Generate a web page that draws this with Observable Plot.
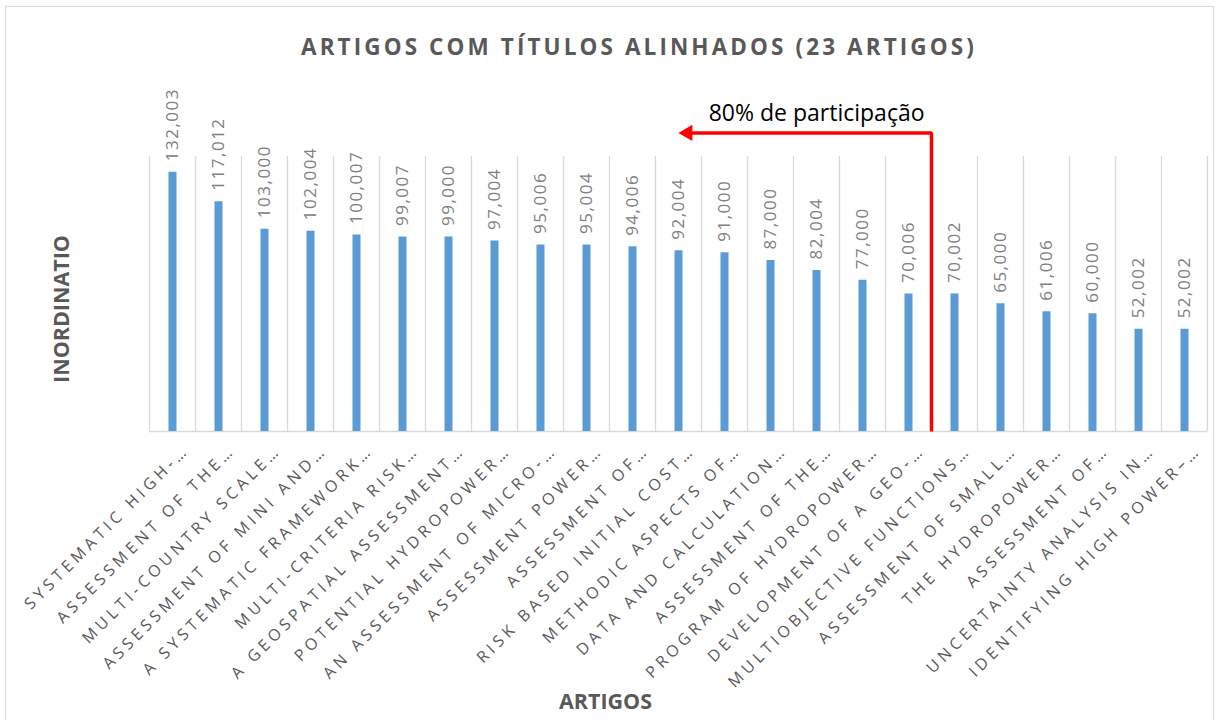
<!DOCTYPE html>
<html>
<head>
<meta charset="utf-8">
<script src="https://cdn.jsdelivr.net/npm/d3@7"></script>
<script src="https://cdn.jsdelivr.net/npm/@observablehq/plot@0.6"></script>
<style>
  body { margin: 0; background: #fff; }
  #wrap { position: relative; width: 1216px; height: 720px; overflow: hidden; background: #fff; }
  #border { position: absolute; left: 5px; top: 6px; width: 1209px; height: 760px; border: 1.5px solid #d9d9d9; box-sizing: border-box; }
  #title { position: absolute; left: 139px; width: 1000px; top: 31px; text-align: center;
           font-family: "Open Sans", sans-serif; font-weight: bold; font-size: 22.5px; letter-spacing: 3.1px; color: #595959; }
  #chart { position: absolute; left: 0; top: 0; }
</style>
</head>
<body>
<div id="wrap">
  <div id="border"></div>
  <div id="title"></div>
  <div id="chart"></div>
</div>
<script>
const titleText = "ARTIGOS COM TÍTULOS ALINHADOS (23 ARTIGOS)";
const yTitle = "INORDINATIO";
const xTitle = "ARTIGOS";
const annotationText = "80% de participação";

const categories = [
  "SYSTEMATIC HIGH-…",
  "ASSESSMENT OF THE…",
  "MULTI-COUNTRY SCALE…",
  "ASSESSMENT OF MINI AND…",
  "A SYSTEMATIC FRAMEWORK…",
  "MULTI-CRITERIA RISK…",
  "A GEOSPATIAL ASSESSMENT…",
  "POTENTIAL HYDROPOWER…",
  "AN ASSESSMENT OF MICRO-…",
  "ASSESSMENT POWER…",
  "ASSESSMENT OF…",
  "RISK BASED INITIAL COST…",
  "METHODIC ASPECTS OF…",
  "DATA AND CALCULATION…",
  "ASSESSMENT OF THE…",
  "PROGRAM OF HYDROPOWER…",
  "DEVELOPMENT OF A GEO-…",
  "MULTIOBJECTIVE FUNCTIONS…",
  "ASSESSMENT OF SMALL…",
  "THE HYDROPOWER…",
  "ASSESSMENT OF…",
  "UNCERTAINTY ANALYSIS IN…",
  "IDENTIFYING HIGH POWER–…"
];
const values = [132.003, 117.012, 103.000, 102.004, 100.007, 99.007, 99.000, 97.004, 95.006, 95.004,
                94.006, 92.004, 91.000, 87.000, 82.004, 77.000, 70.006, 70.002, 65.000, 61.006,
                60.000, 52.002, 52.002];

// annotation: 80% cut-off after the 17th article, arrow pointing left
const cutoffIndex = 17;
const arrowHeadIndex = 11.7;
const arrowLevel = 152;

document.getElementById("title").textContent = titleText;

const data = categories.map((c, i) => ({i, label: c, value: values[i]}));
const fmt = v => d3.format(".3f")(v).replace(".", ",");
const arrowPath = [
  {x: cutoffIndex, y: 0},
  {x: cutoffIndex, y: arrowLevel},
  {x: arrowHeadIndex, y: arrowLevel}
];

const chart = Plot.plot({
  width: 1216,
  height: 720,
  marginLeft: 149,
  marginRight: 9,
  marginTop: 156,
  marginBottom: 289,
  x: {type: "linear", domain: [0, categories.length], axis: null},
  y: {domain: [0, 140], axis: null},
  style: {fontFamily: "'Open Sans', sans-serif", background: "transparent", overflow: "visible"},
  marks: [
    Plot.ruleX(d3.range(categories.length + 1), {stroke: "#d9d9d9", strokeWidth: 1.3}),
    Plot.ruleY([0], {stroke: "#d9d9d9", strokeWidth: 1.5}),
    Plot.ruleX(data, {x: d => d.i + 0.5, y1: 0, y2: "value", stroke: "#5b9bd5", strokeWidth: 8}),
    Plot.text(data, {x: d => d.i + 0.5, y: "value", text: d => fmt(d.value), rotate: -90,
      textAnchor: "start", dy: -11, fill: "#808080", fontSize: 17}),
    Plot.text(data, {x: d => d.i + 0.5, y: 0, text: "label", rotate: -45,
      textAnchor: "end", dx: 14, dy: 16, fill: "#595959", fontSize: 16}),
    Plot.line(arrowPath, {x: "x", y: "y", stroke: "#ff0000", strokeWidth: 3.5, strokeLinejoin: "miter", strokeLinecap: "butt"}),
    Plot.dot([arrowPath[2]], {x: "x", y: "y", symbol: "triangle", r: 6, fill: "#ff0000", stroke: "none", rotate: -90}),
    Plot.text([annotationText], {x: (cutoffIndex + arrowHeadIndex) / 2, y: arrowLevel, text: d => d,
      dx: 7, dy: -19, fill: "#000", fontSize: 23}),
    Plot.text([yTitle], {frameAnchor: "left", text: d => d, rotate: -90, dx: -87, dy: 15,
      textAnchor: "middle", lineAnchor: "middle", fontWeight: "bold", fontSize: 21.5, fill: "#595959"}),
    Plot.text([xTitle], {frameAnchor: "bottom", text: d => d, dx: -73, dy: 271,
      textAnchor: "middle", lineAnchor: "middle", fontWeight: "bold", fontSize: 21.5, fill: "#595959"})
  ]
});

// letter spacing for value labels and category labels
const valueSet = new Set(values.map(fmt));
const catSet = new Set(categories);
d3.select(chart).selectAll("text").each(function() {
  const t = this.textContent;
  if (valueSet.has(t)) this.style.letterSpacing = "1.5px";
  else if (catSet.has(t)) this.style.letterSpacing = "4.2px";
});

document.getElementById("chart").appendChild(chart);
</script>
</body>
</html>
